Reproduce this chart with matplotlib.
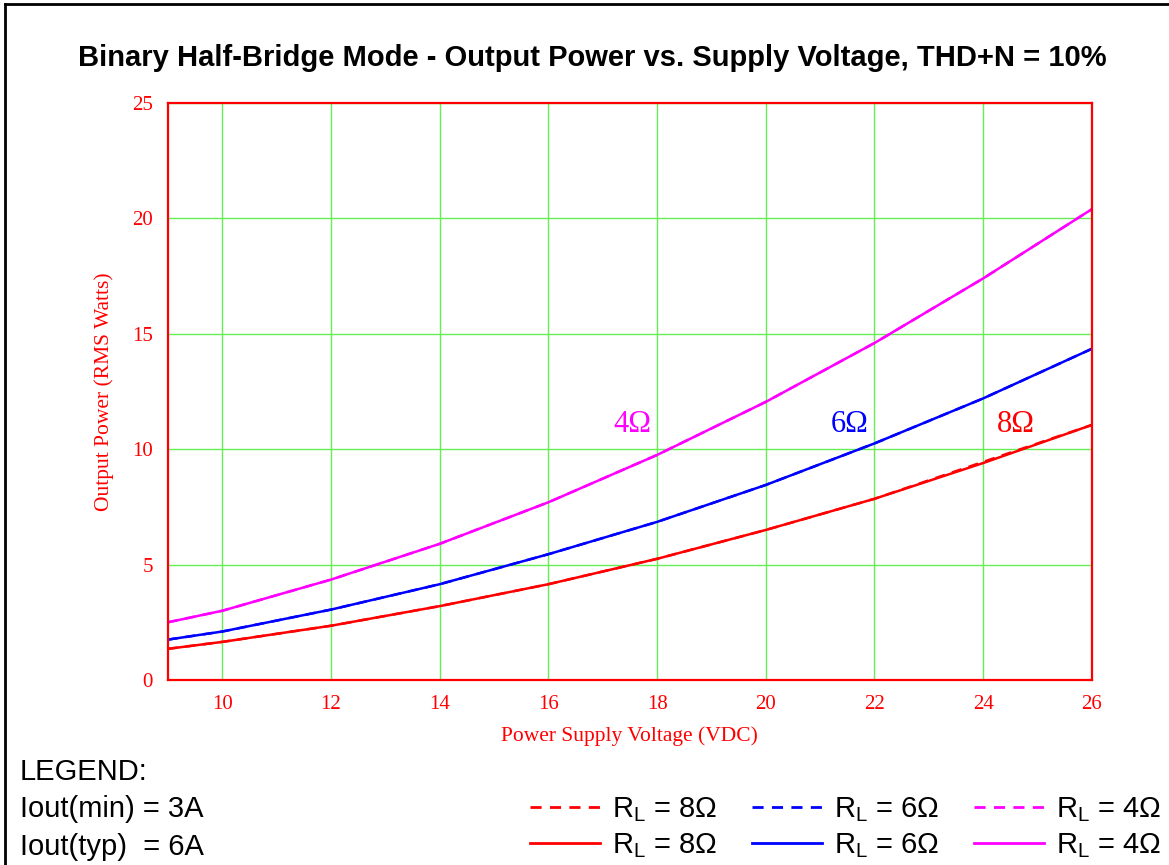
import matplotlib.pyplot as plt
from matplotlib.lines import Line2D

# supply voltage (VDC)
volts = [9, 10, 12, 14, 16, 18, 20, 22, 24, 26]

# output power at THD+N = 10% (RMS watts), Iout(typ) = 6A
p8_typ = [1.35, 1.65, 2.35, 3.20, 4.15, 5.25, 6.50, 7.85, 9.40, 11.05]
p6_typ = [1.75, 2.10, 3.05, 4.15, 5.45, 6.85, 8.45, 10.25, 12.20, 14.35]
p4_typ = [2.50, 3.00, 4.35, 5.90, 7.70, 9.75, 12.05, 14.60, 17.40, 20.40]

# Iout(min) = 3A
p8_min = [1.35, 1.65, 2.35, 3.20, 4.15, 5.25, 6.50, 7.85, 9.45, 11.05]
p6_min = [1.75, 2.10, 3.05, 4.15, 5.45, 6.85, 8.45, 10.25, 12.20, 14.35]
p4_min = [2.50, 3.00, 4.35, 5.90, 7.70, 9.75, 12.05, 14.60, 17.40, 20.40]

curve_labels = ["8\u03a9", "6\u03a9", "4\u03a9"]
label_pos = [(24.6, 11.05), (21.55, 11.05), (17.55, 11.05)]
colors = ["#ff0000", "#0000ff", "#ff00ff"]

plt.rcParams['mathtext.fontset'] = 'custom'
plt.rcParams['mathtext.rm'] = 'Liberation Sans'

fig = plt.figure(figsize=(11.69, 8.65), dpi=100)
ax = fig.add_axes([0.1437, 0.2139, 0.7903, 0.667])

typ = [p8_typ, p6_typ, p4_typ]
mins = [p8_min, p6_min, p4_min]
for i in range(3):
    ax.plot(volts, mins[i], color=colors[i], lw=1.8, ls=(0, (4, 3)))
    ax.plot(volts, typ[i], color=colors[i], lw=1.8)
    ax.text(label_pos[i][0], label_pos[i][1], curve_labels[i], color=colors[i],
            family='Liberation Serif', fontsize=22, ha='center', va='center')

ax.set_xlim(9, 26)
ax.set_ylim(0, 25)
ax.set_xticks([10, 12, 14, 16, 18, 20, 22, 24, 26])
ax.set_yticks([0, 5, 10, 15, 20, 25])
ax.grid(True, color='#66ee55', lw=1)
ax.set_axisbelow(True)
for s in ax.spines.values():
    s.set_color('#ff0000')
    s.set_linewidth(1.6)
ax.tick_params(length=0, colors='#ff0000', labelsize=15, pad=11)
for t in ax.get_xticklabels() + ax.get_yticklabels():
    t.set_family('Liberation Serif')
ax.set_xlabel("Power Supply Voltage (VDC)", color='#ff0000', family='Liberation Serif',
              fontsize=15.5, labelpad=9)
ax.set_ylabel("Output Power (RMS Watts)", color='#ff0000', family='Liberation Serif',
              fontsize=15.5, labelpad=13)

fig.text(0.507, 0.933, "Binary Half-Bridge Mode - Output Power vs. Supply Voltage, THD+N = 10%",
         ha='center', va='center', family='Liberation Sans', weight='bold', fontsize=21)

# legend block
fig.text(0.017, 0.108, "LEGEND:", family='Liberation Sans', fontsize=21, va='center')
fig.text(0.017, 0.065, "Iout(min) = 3A", family='Liberation Sans', fontsize=21, va='center')
fig.text(0.017, 0.021, "Iout(typ)  = 6A", family='Liberation Sans', fontsize=21, va='center')

handles = []
labels = []
for i in range(3):
    handles.append(Line2D([], [], color=colors[i], lw=2, ls=(0, (4, 3))))
    labels.append(r"R$_\mathrm{L}$ = " + curve_labels[i])
    handles.append(Line2D([], [], color=colors[i], lw=2))
    labels.append(r"R$_\mathrm{L}$ = " + curve_labels[i])
fig.legend(handles, labels, ncol=3, loc='center left', bbox_to_anchor=(0.453, 0.043),
           frameon=False, prop={'family': 'Liberation Sans', 'size': 21},
           handlelength=2.4, handletextpad=0.41, columnspacing=1.2, labelspacing=0.25,
           borderpad=0, borderaxespad=0)

# page border
fig.add_artist(Line2D([0.004, 0.004], [0, 0.995], color='black', lw=2, transform=fig.transFigure))
fig.add_artist(Line2D([0.004, 1.0], [0.995, 0.995], color='black', lw=2, transform=fig.transFigure))

fig.savefig("out.png", dpi=100)
